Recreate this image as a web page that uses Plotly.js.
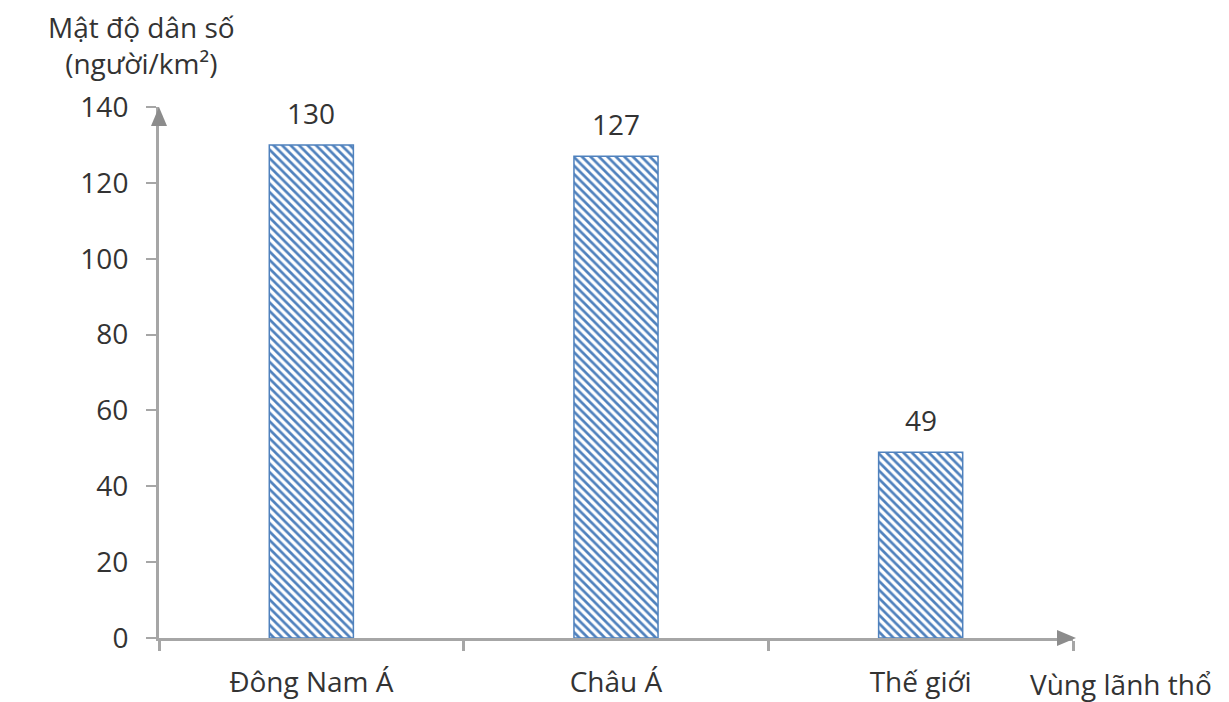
<!DOCTYPE html>
<html>
<head>
<meta charset="utf-8">
<script src="https://cdn.plot.ly/plotly-3.0.1.min.js"></script>
<style>html,body{margin:0;padding:0;background:#fff;}#chart{width:1229px;height:702px;}</style>
</head>
<body>
<div id="chart"></div>
<script>
const categories = ['Đông Nam Á', 'Châu Á', 'Thế giới'];
const density = [130, 127, 49];
const yTickValues = [0, 20, 40, 60, 80, 100, 120, 140];
const yTitle = 'Mật độ dân số<br>(người/km²)';
const xTitle = 'Vùng lãnh thổ';

const FONT = 'Open Sans, Noto Sans, sans-serif';
const TXT = '#333333';
const AX = '#a6a6a6';
const ARROW = '#8c8c8c';
const BLUE = '#4f81bd';

const trace = {
  type: 'bar',
  x: categories,
  y: density,
  width: 0.276,
  marker: {
    color: BLUE,
    line: {color: BLUE, width: 1.5},
    pattern: {shape: '\\', fgcolor: BLUE, bgcolor: '#ffffff', size: 6, solidity: 0.45, fillmode: 'replace'}
  },
  hoverinfo: 'skip'
};

const valueLabels = categories.map((c, i) => ({
  x: c, y: density[i], xref: 'x', yref: 'y',
  text: String(density[i]), showarrow: false,
  xanchor: 'center', yanchor: 'middle', yshift: 32,
  font: {family: FONT, size: 28, color: TXT}
}));

const plotW = 1229 - 159 - 156, plotH = 702 - 107 - 64;

const layout = {
  width: 1229, height: 702,
  margin: {l: 159, r: 156, t: 107, b: 64},
  paper_bgcolor: '#ffffff', plot_bgcolor: '#ffffff',
  showlegend: false,
  bargap: 0,
  xaxis: {
    type: 'category',
    range: [-0.5, 2.5],
    showline: true, linecolor: AX, linewidth: 3,
    ticks: 'outside', tickson: 'boundaries', ticklen: 10, tickwidth: 3, tickcolor: AX,
    ticklabelstandoff: 17,
    tickfont: {family: FONT, size: 28, color: TXT},
    showgrid: false, zeroline: false, fixedrange: true
  },
  yaxis: {
    range: [0, 140],
    tickmode: 'array', tickvals: yTickValues,
    showline: true, linecolor: AX, linewidth: 3,
    ticks: 'outside', ticklen: 10, tickwidth: 2, tickcolor: AX,
    ticklabelstandoff: 12,
    tickfont: {family: FONT, size: 28, color: TXT},
    showgrid: false, zeroline: false, fixedrange: true
  },
  shapes: [
    {type: 'path', xref: 'paper', yref: 'paper', xsizemode: 'pixel', ysizemode: 'pixel',
     xanchor: 0, yanchor: 1, path: 'M -8,-19 L 8,-19 L 0,0 Z',
     fillcolor: ARROW, line: {width: 0}},
    {type: 'path', xref: 'paper', yref: 'paper', xsizemode: 'pixel', ysizemode: 'pixel',
     xanchor: 1, yanchor: 0, path: 'M -16,8 L -16,-8 L 3,0 Z',
     fillcolor: ARROW, line: {width: 0}}
  ],
  annotations: valueLabels.concat([
    {x: (141 - 159) / plotW, y: (638 - 45) / plotH, xref: 'paper', yref: 'paper',
     xanchor: 'center', yanchor: 'middle',
     text: yTitle, showarrow: false,
     font: {family: FONT, size: 28, color: TXT}},
    {x: 1, y: 0, xref: 'paper', yref: 'paper', text: xTitle, showarrow: false,
     xanchor: 'left', yanchor: 'middle', xshift: -45, yshift: -46,
     font: {family: FONT, size: 28, color: TXT}}
  ])
};

Plotly.newPlot('chart', [trace], layout, {staticPlot: true, displayModeBar: false});
</script>
</body>
</html>
